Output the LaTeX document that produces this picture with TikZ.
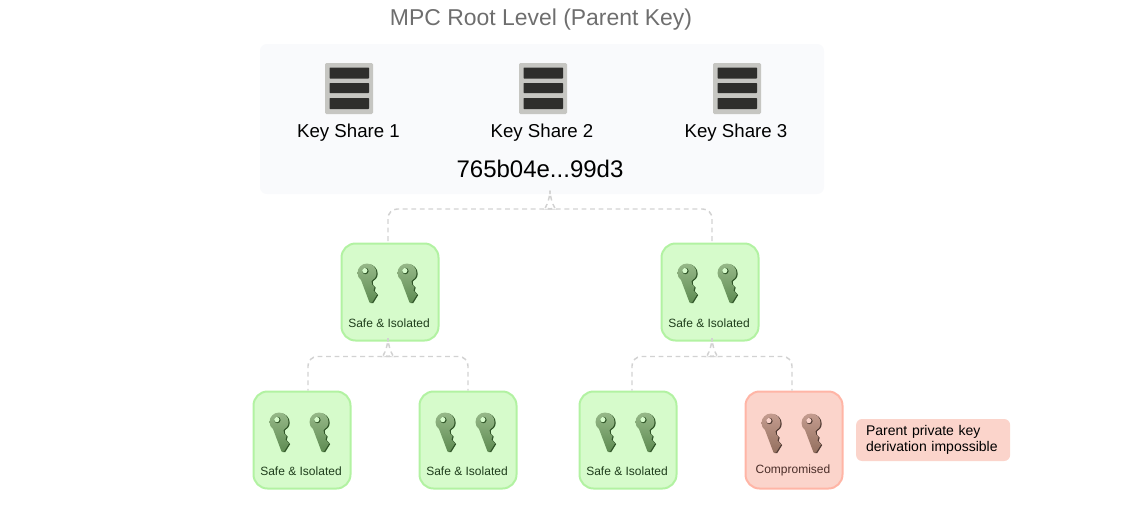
\documentclass[tikz,border=0pt]{standalone}
\usepackage{fontspec}
\setmainfont{Liberation Sans}
\usepackage{xcolor}
\usetikzlibrary{positioning}
\definecolor{rootfill}{HTML}{F9FAFC}
\definecolor{titlegray}{HTML}{6E6E6E}
\definecolor{linkgray}{HTML}{D2D2D2}
\definecolor{safefill}{HTML}{D6FBCB}
\definecolor{safeline}{HTML}{B2F2A2}
\definecolor{safetext}{HTML}{1F3D1C}
\definecolor{badfill}{HTML}{FBD4CB}
\definecolor{badline}{HTML}{FFB5A6}
\definecolor{badtext}{HTML}{4A2D28}
\definecolor{safetop}{HTML}{96B888}
\definecolor{safelow}{HTML}{5F8C53}
\definecolor{safeedge}{HTML}{2F5427}
\definecolor{badtop}{HTML}{C49C8F}
\definecolor{badlow}{HTML}{94705F}
\definecolor{badedge}{HTML}{4F3A33}
\definecolor{blockgray}{HTML}{C6C6C2}
\definecolor{blockdark}{HTML}{2E2E2C}
\tikzset{
    pics/keyicon/.style={code={
        \path[fill=#1edge, shift={(1.2,0.6)}] (-6,7) .. controls (-8.3,5.3) and (-9.5,3) .. (-9.5,0)
            .. controls (-9.5,-5.2) and (-5.2,-9.5) .. (0,-9.5) .. controls (5.2,-9.5) and (9.5,-5.2) .. (9.5,0)
            .. controls (9.5,3.5) and (7.5,6.5) .. (4.5,8) -- (5,11.5) -- (7.5,14) -- (6.5,17.5) -- (10,21.5)
            -- (5,29.5) -- (2.5,29.5) -- cycle;
        \path[top color=#1top, bottom color=#1low] (-6,7) .. controls (-8.3,5.3) and (-9.5,3) .. (-9.5,0)
            .. controls (-9.5,-5.2) and (-5.2,-9.5) .. (0,-9.5) .. controls (5.2,-9.5) and (9.5,-5.2) .. (9.5,0)
            .. controls (9.5,3.5) and (7.5,6.5) .. (4.5,8) -- (5,11.5) -- (7.5,14) -- (6.5,17.5) -- (10,21.5)
            -- (5,29.5) -- (2.5,29.5) -- cycle;
        \fill[#1edge] (-1.6,-2) circle[radius=3.2];
        \fill[#1fill] (-2.2,-2.4) circle[radius=2.6];
    }},
    pics/blockicon/.style={code={
        \fill[blockgray, rounded corners=1pt] (-24,-25.5) rectangle (24,25.5);
        \fill[blockdark, rounded corners=0.5pt] (-19.5,-21) rectangle (20,-10);
        \fill[blockdark, rounded corners=0.5pt] (-19.5,-5.5) rectangle (20,4.5);
        \fill[blockdark, rounded corners=0.5pt] (-19.5,9.5) rectangle (20,20.5);
    }},
}
\newcommand{\forklink}[3]{%
    \draw[link] (#1) -- ++(0,6) .. controls +(-3,5) and +(4,0) .. +(-9,9) -| (#2);
    \draw[link] (#1) -- ++(0,6) .. controls +(3,5) and +(-4,0) .. +(9,9) -| (#3);
}
\begin{document}
\begin{tikzpicture}[
        x=0.75pt, y=-0.75pt,
        link/.style={draw=linkgray, line width=1.1pt, dash pattern=on 3.6pt off 2.8pt, rounded corners=7pt},
        keybox/.style={rounded corners=10.5pt, line width=1.5pt, minimum size=72.75pt, inner sep=0pt, outer sep=0.75pt},
        safebox/.style={keybox, draw=safeline, fill=safefill},
        badbox/.style={keybox, draw=badline, fill=badfill},
        caption/.style={font=\fontsize{9}{10}\selectfont, inner sep=0pt},
        share/.style={font=\fontsize{14}{16}\selectfont, text=black, inner sep=0pt},
    ]
        \useasboundingbox (0,0) rectangle (1128,504);

        % Root level
        \node[fill=rootfill, rounded corners=5pt, minimum width=423pt, minimum height=112.5pt, inner sep=0pt] (root) at (542,119) {};
        \node[font=\fontsize{17.2}{20}\selectfont, text=titlegray, inner sep=0pt] (title) at (541,19.5) {MPC Root Level (Parent Key)};
        \node[share] (s1) at (348.5,133) {Key Share 1};
        \node[share] (s2) at (542,133) {Key Share 2};
        \node[share] (s3) at (736,133) {Key Share 3};
        \node[font=\fontsize{18}{20}\selectfont, text=black, inner sep=0pt] (hash) at (540,169) {765b04e...99d3};
        \pic at (349,88.5) {blockicon};
        \pic at (543,88.5) {blockicon};
        \pic at (737,88.5) {blockicon};

        % Middle level
        \node[safebox] (n1) at (390,292) {};
        \node[safebox, right=165.75pt of n1] (n2) {};
        \node[caption, text=safetext] (c1) at (389,323.5) {Safe \& Isolated};
        \node[caption, text=safetext] (c2) at (709,323.5) {Safe \& Isolated};
        \pic at (367,273) {keyicon=safe};
        \pic at (407,273) {keyicon=safe};
        \pic at (687,273) {keyicon=safe};
        \pic at (727,273) {keyicon=safe};

        % Bottom level
        \node[safebox] (l1) at (302,440) {};
        \node[safebox, right=50.25pt of l1] (l2) {};
        \node[safebox, right=45.75pt of l2] (l3) {};
        \node[badbox, right=50.25pt of l3] (l4) {};
        \node[caption, text=safetext] (c3) at (301,471.5) {Safe \& Isolated};
        \node[caption, text=safetext] (c4) at (467,471.5) {Safe \& Isolated};
        \node[caption, text=safetext] (c5) at (627,471.5) {Safe \& Isolated};
        \node[caption, text=badtext] (c6) at (793,470) {Compromised};
        \pic at (279,422) {keyicon=safe};
        \pic at (445,422) {keyicon=safe};
        \pic at (319,422) {keyicon=safe};
        \pic at (485,422) {keyicon=safe};
        \pic at (605,422) {keyicon=safe};
        \pic at (645,422) {keyicon=safe};
        \pic at (771,423) {keyicon=bad};
        \pic at (811,423) {keyicon=bad};
        \node[right=9.25pt of l4, fill=badfill, rounded corners=4.5pt, minimum width=115.5pt, minimum height=31.5pt,
              inner sep=0pt, text width=100.5pt, align=left, font=\fontsize{10.5}{12}\selectfont, text=black] (note) {Parent private key\\derivation impossible};

        % Dashed links
        \coordinate (rootfork) at (550,194);
        \coordinate (n1in) at ([xshift=-1.5pt]n1.north);
        \coordinate (n2in) at ([xshift=1.5pt]n2.north);
        \coordinate (n1fork) at ([xshift=-1.5pt]n1.south);
        \coordinate (n2fork) at ([xshift=1.5pt]n2.south);
        \coordinate (l1in) at ([xshift=4.5pt]l1.north);
        \coordinate (l2in) at (l2.north);
        \coordinate (l3in) at ([xshift=3pt]l3.north);
        \coordinate (l4in) at ([xshift=-1.5pt]l4.north);
        \forklink{rootfork}{n1in}{n2in}
        \forklink{n1fork}{l1in}{l2in}
        \forklink{n2fork}{l3in}{l4in}
    \end{tikzpicture}
\end{document}
